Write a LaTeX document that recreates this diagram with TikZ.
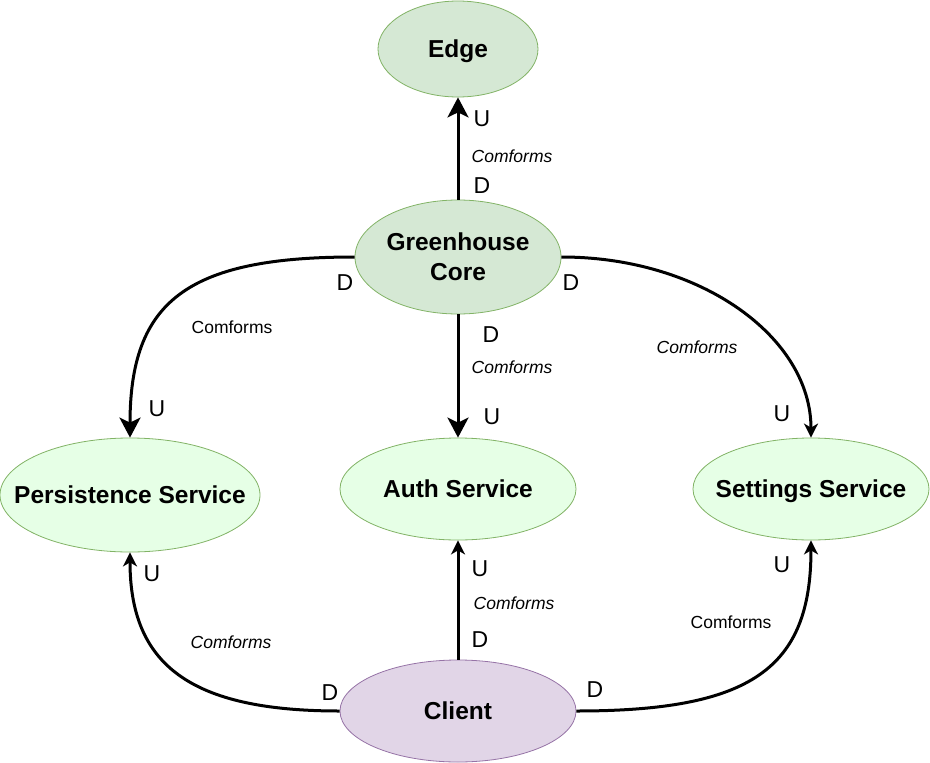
\documentclass[tikz,border=0pt]{standalone}
\usepackage{fontspec}
\setmainfont{Liberation Sans}
\usetikzlibrary{shapes.geometric,arrows.meta}
\definecolor{gfill}{HTML}{D5E8D4}
\definecolor{gline}{HTML}{82B366}
\definecolor{lfill}{HTML}{E6FFE6}
\definecolor{pfill}{HTML}{E1D5E7}
\definecolor{pline}{HTML}{9673A6}
\tikzset{
  ent/.style={ellipse, draw=gline, fill=gfill, line width=0.8pt, inner sep=0pt},
  svc/.style={ent, fill=lfill},
  cli/.style={ent, draw=pline, fill=pfill},
  ttl/.style={font=\fontsize{24.5}{30}\selectfont\bfseries, align=center,
              text height=17.5pt, text depth=0pt, inner sep=0pt},
  link/.style={line width=3pt},
  bigtip/.style={-{Stealth[length=20pt,width=21pt,inset=5pt]}},
  smalltip/.style={-{Stealth[length=14pt,width=14pt,inset=4pt]}},
  ud/.style={font=\fontsize{23}{27}\selectfont, inner sep=0pt},
  cf/.style={font=\fontsize{17.5}{21}\selectfont\itshape, inner sep=0pt},
  cfu/.style={font=\fontsize{17.5}{21}\selectfont, inner sep=0pt},
}
\begin{document}
\begin{tikzpicture}[x=1pt,y=-1pt]
\useasboundingbox (0,0) rectangle (930,763);
% nodes
\node[ent, minimum width=160pt, minimum height=96pt,
      label={[ttl]center:Edge}] (edge) at (458,49) {};
\node[ent, minimum width=206pt, minimum height=114pt,
      label={[ttl,yshift=-15pt]center:Greenhouse\\Core}] (core) at (458,257) {};
\node[svc, minimum width=260pt, minimum height=114pt,
      label={[ttl]center:Persistence Service}] (pers) at (130,495) {};
\node[svc, minimum width=236pt, minimum height=102pt,
      label={[ttl]center:Auth Service}] (auth) at (458,489) {};
\node[svc, minimum width=236pt, minimum height=102pt,
      label={[ttl]center:Settings Service}] (sett) at (811,489) {};
\node[cli, minimum width=236pt, minimum height=102pt,
      label={[ttl]center:Client}] (cl) at (458,711) {};
% connectors
\draw[link,bigtip] (core.north) -- (edge.south);
\draw[link,bigtip] (core.south) -- (auth.north);
\draw[link,bigtip] (core.west) .. controls +(-168,0) and +(0,-136) .. (pers.north);
\draw[link,smalltip] (core.east) .. controls +(140,0) and +(0,-100) .. (sett.north);
\draw[link,smalltip] (cl.north) -- (auth.south);
\draw[link,smalltip] (cl.west) .. controls +(-150,0) and +(0,112) .. (pers.south);
\draw[link,smalltip] (cl.east) .. controls +(175,0) and +(0,128) .. (sett.south);
% labels: core -> edge
\node[ud] (l1u) at (482,119) {U};
\node[cf] (l1c) at (512,156) {Comforms};
\node[ud] (l1d) at (482,186) {D};
% core -> persistence
\node[ud] (l2d) at (345,283) {D};
\node[cfu] (l2c) at (232,327) {Comforms};
\node[ud] (l2u) at (157,409) {U};
% core -> settings
\node[ud] (l3d) at (571,283) {D};
\node[cf] (l3c) at (697,347) {Comforms};
\node[ud] (l3u) at (782,414) {U};
% core -> auth
\node[ud] (l4d) at (491,335) {D};
\node[cf] (l4c) at (512,367) {Comforms};
\node[ud] (l4u) at (492,417) {U};
% client -> auth
\node[ud] (l5u) at (480,569) {U};
\node[cf] (l5c) at (514,603) {Comforms};
\node[ud] (l5d) at (480,640) {D};
% client -> persistence
\node[ud] (l6u) at (152,574) {U};
\node[cf] (l6c) at (231,642) {Comforms};
\node[ud] (l6d) at (330,693) {D};
% client -> settings
\node[ud] (l7u) at (782,565) {U};
\node[cfu] (l7c) at (731,622) {Comforms};
\node[ud] (l7d) at (595,690) {D};
\end{tikzpicture}
\end{document}
